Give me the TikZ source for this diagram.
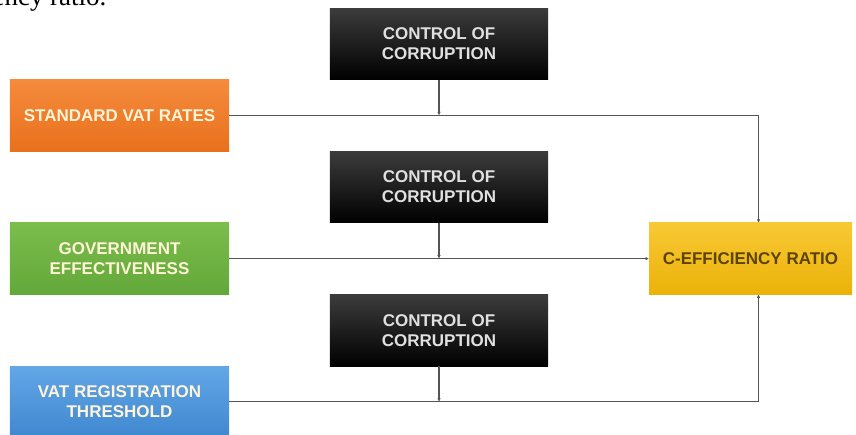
\documentclass[tikz,border=0pt]{standalone}
\usepackage{fontspec}
\setmainfont{Liberation Serif}
\newfontfamily\boxfont{Liberation Sans}
\usepackage{tikz}
\usetikzlibrary{matrix, arrows.meta}

\definecolor{orangetop}{HTML}{F58B3D}
\definecolor{orangebot}{HTML}{E8711C}
\definecolor{greentop}{HTML}{7CBD4C}
\definecolor{greenbot}{HTML}{62A83A}
\definecolor{bluetop}{HTML}{62A7E6}
\definecolor{bluebot}{HTML}{3F87D0}
\definecolor{yellowtop}{HTML}{F8C935}
\definecolor{yellowbot}{HTML}{EBB208}
\definecolor{ctrltop}{HTML}{3C3C3C}
\definecolor{ratiotext}{HTML}{5C4300}
\definecolor{boxtext}{HTML}{FFF4D8}
\definecolor{wire}{HTML}{555555}

\begin{document}
\begin{tikzpicture}[x=1pt, y=-1pt,
  box/.style = {anchor=center, align=center, inner sep=2pt, minimum height=71.6pt,
                font=\boxfont\bfseries\fontsize{17}{20}\selectfont},
  cause/.style = {box, minimum width=219pt, text=boxtext},
  ctrl/.style = {box, minimum width=218pt, top color=ctrltop, bottom color=black, text=black!12},
  link/.style = {draw=wire, line width=1.3pt, -{Latex[length=3.5pt,width=3.5pt]}}]
\path[use as bounding box, clip] (0,0) rectangle (856,434);
\node[anchor=base east, font=\fontsize{27}{30}\selectfont] (txt) at (110,5) {efficiency ratio.};
\matrix (m) [matrix of nodes, column sep = 101pt, row sep = 0pt, inner sep = 0pt, outer sep = 0pt, anchor=north west] at (10,8) {
& \node[ctrl](c1){CONTROL OF\\CORRUPTION}; & \\
\node[cause, top color=orangetop, bottom color=orangebot](std){STANDARD VAT RATES}; & & \\
& \node[ctrl](c2){CONTROL OF\\CORRUPTION}; & \\
\node[cause, top color=greentop, bottom color=greenbot](gov){GOVERNMENT\\EFFECTIVENESS}; & & \node[box, minimum width=203pt, top color=yellowtop, bottom color=yellowbot, text=ratiotext](cer){C-EFFICIENCY RATIO}; \\
& \node[ctrl](c3){CONTROL OF\\CORRUPTION}; & \\
\node[cause, top color=bluetop, bottom color=bluebot](vat){VAT REGISTRATION\\THRESHOLD}; & & \\
};
\draw[link] (std.east) -| ([xshift=8pt]cer.north);
\draw[link] (c1.south) -- (c1.south |- std.east);
\draw[link] (gov.east) -- (cer.west);
\draw[link] (c2.south) -- (c2.south |- gov.east);
\draw[link] (vat.east) -| ([xshift=8pt]cer.south);
\draw[link] (c3.south) -- (c3.south |- vat.east);
\end{tikzpicture}
\end{document}
